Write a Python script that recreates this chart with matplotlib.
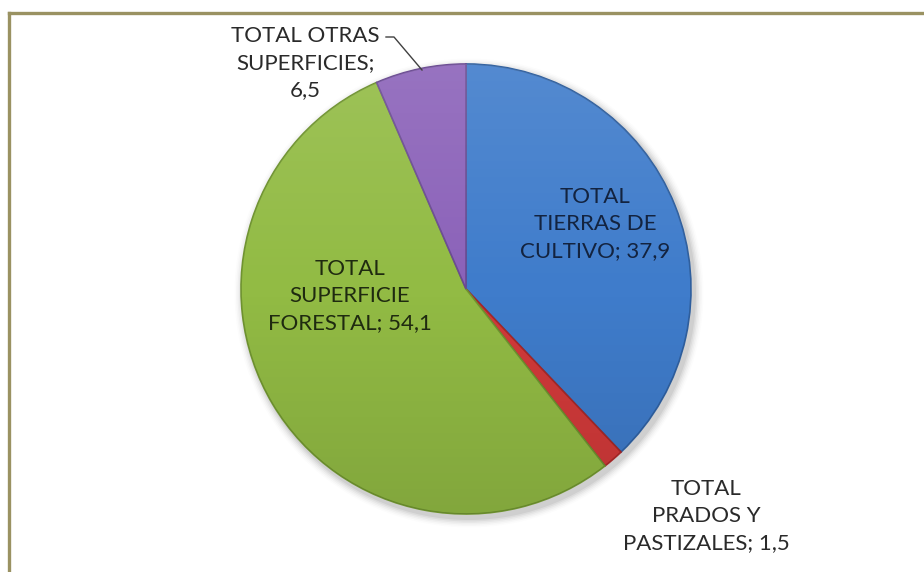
import matplotlib
matplotlib.use("Agg")
import matplotlib.pyplot as plt
import numpy as np
from matplotlib.lines import Line2D
from matplotlib.patches import Circle

categories = ["TOTAL\nTIERRAS DE\nCULTIVO", "TOTAL\nPRADOS Y\nPASTIZALES",
              "TOTAL\nSUPERFICIE\nFORESTAL", "TOTAL OTRAS\nSUPERFICIES"]
values = [37.9, 1.5, 54.1, 6.5]
separators = ["; ", "; ", "; ", ";\n"]
colors = ["#3f7ccb", "#d23a3a", "#92bb44", "#8b62b9"]
edge_colors = ["#2f5f9e", "#a82828", "#6f9330", "#6a4a92"]
text_colors = ["#13233f", "#2a2a2a", "#1f2a10", "#2a2a2a"]

W, H = 924, 572
fig = plt.figure(figsize=(W / 100, H / 100), dpi=100)
ax = fig.add_axes([0, 0, 1, 1])


def py(y):
    return H - y


cx, cy, r = 466, py(289), 225

# soft drop shadow under the pie
for i, a in enumerate(np.linspace(0.05, 0.01, 6)):
    ax.add_patch(Circle((cx + 3, cy - 4), r + 2 + i * 1.5, color="black",
                        alpha=a, lw=0, zorder=0))

wedges, _ = ax.pie(values, colors=colors, startangle=90, counterclock=False,
                   center=(cx, cy), radius=r, frame=True,
                   wedgeprops=dict(linewidth=1.2))
for w, ec in zip(wedges, edge_colors):
    w.set_edgecolor(ec)

# light-to-dark vertical shading over the pie
grad = np.linspace(0, 1, 256)[:, None] * np.ones((1, 2))
shade = np.zeros((256, 2, 4))
shade[..., :3] = np.where(grad[..., None] < 0.5, 1.0, 0.0)
shade[..., 3] = np.abs(grad - 0.5) * 0.22
img = ax.imshow(shade, extent=(cx - r, cx + r, cy - r, cy + r), origin="upper",
                interpolation="bilinear", zorder=2, aspect="auto")
clip = Circle((cx, cy), r, transform=ax.transData)
img.set_clip_path(clip)

ax.set_xlim(0, W)
ax.set_ylim(0, H)
ax.set_aspect("equal")
ax.axis("off")

font = "Lato"
fs = 16


def fmt(v):
    return f"{v:.1f}".replace(".", ",")


label_pos = [(595, 224), (706, 516), (350, 296), (305, 63)]
for cat, val, sep, (x, y), tc in zip(categories, values, separators, label_pos, text_colors):
    ax.text(x, py(y), f"{cat}{sep}{fmt(val)}", ha="center", va="center", fontsize=fs,
            family=font, color=tc, linespacing=1.42, zorder=5)

# leader line for the small top slice
ax.add_line(Line2D([386, 394, 422], [py(37), py(37), py(70)], color="#404040", lw=1.0, zorder=4))

# frame lines along top and left
fig.add_artist(Line2D([9 / W, 1], [1 - 13 / H, 1 - 13 / H], transform=fig.transFigure,
                      color="#9a9262", lw=2.4))
fig.add_artist(Line2D([9 / W, 9 / W], [0, 1 - 13 / H], transform=fig.transFigure,
                      color="#9a9262", lw=2.4))

fig.savefig("out.png", dpi=100)
